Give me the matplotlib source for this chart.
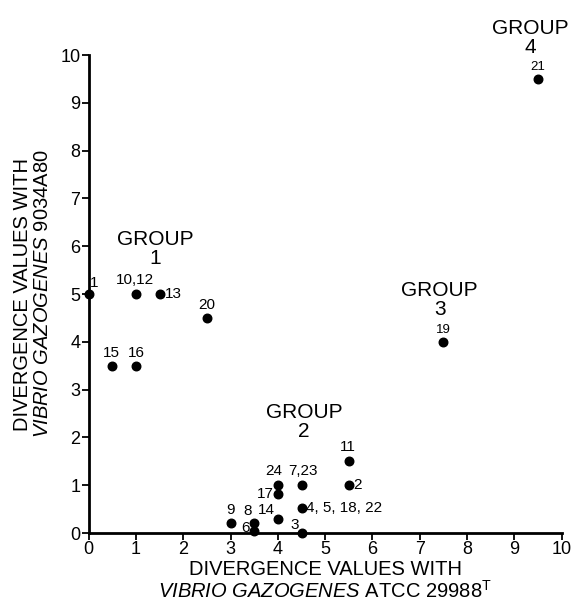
import matplotlib
matplotlib.use("Agg")
import matplotlib.pyplot as plt

plt.rcParams['font.family'] = ['Liberation Sans', 'DejaVu Sans']
plt.rcParams['mathtext.fontset'] = 'custom'
plt.rcParams['mathtext.rm'] = 'Liberation Sans'
plt.rcParams['mathtext.it'] = 'Liberation Sans:italic'

# strain points: divergence vs ATCC 29988T (x) and vs 9034A80 (y)
labels = ['1', '10,12', '13', '20', '15', '16', '21', '19', '11', '2',
          '24', '7,23', '17', '4, 5, 18, 22', '14', '9', '8', '6', '3']
x_vals = [0, 1, 1.5, 2.5, 0.5, 1, 9.5, 7.5, 5.5, 5.5,
          4, 4.5, 4, 4.5, 4, 3, 3.5, 3.5, 4.5]
y_vals = [5, 5, 5, 4.5, 3.5, 3.5, 9.5, 4, 1.5, 1,
          1, 1, 0.82, 0.52, 0.3, 0.22, 0.2, 0.05, 0.0]

groups = ['GROUP\n1', 'GROUP\n2', 'GROUP\n3', 'GROUP\n4']
group_x = [1.4, 4.55, 7.42, 9.33]
group_y = [5.95, 2.33, 4.87, 10.35]

ticks = list(range(0, 11))

# label placement (offset in points, alignment)
offsets = {
    '1': (1, 3, 'left', 'bottom'),
    '10,12': (-1, 5, 'center', 'bottom'),
    '13': (4, 0, 'left', 'center'),
    '20': (0, 4, 'center', 'bottom'),
    '15': (-1, 4, 'center', 'bottom'),
    '16': (0, 4, 'center', 'bottom'),
    '21': (0, 4, 'center', 'bottom'),
    '19': (0, 4, 'center', 'bottom'),
    '11': (-1, 5, 'center', 'bottom'),
    '2': (3, 0, 'left', 'center'),
    '24': (-3, 5, 'center', 'bottom'),
    '7,23': (1, 5, 'center', 'bottom'),
    '17': (-3, 0, 'right', 'center'),
    '4, 5, 18, 22': (3, 0, 'left', 'center'),
    '14': (-8, 1, 'center', 'bottom'),
    '9': (0, 4, 'center', 'bottom'),
    '8': (-5, 4, 'center', 'bottom'),
    '6': (-3, 2, 'right', 'center'),
    '3': (-5, 6, 'center', 'center'),
}

fig = plt.figure(figsize=(5.72, 6.12), dpi=100)
ax = fig.add_axes([0.155, 0.129, 0.827, 0.781])

ax.scatter(x_vals, y_vals, s=38, color='black', zorder=3, clip_on=False)

for lab, x, y in zip(labels, x_vals, y_vals):
    dx, dy, ha, va = offsets[lab]
    fs = 9.5 if lab in ('21', '19') else 11
    ax.annotate(lab, (x, y), xytext=(dx, dy), textcoords='offset points',
                ha=ha, va=va, fontsize=fs, annotation_clip=False)

for g, gx, gy in zip(groups, group_x, group_y):
    ax.text(gx, gy, g, ha='center', va='center', fontsize=15,
            linespacing=1.0, clip_on=False)

ax.set_xlim(0, 10)
ax.set_ylim(0, 10)
ax.set_xticks(ticks)
ax.set_yticks(ticks)
ax.tick_params(labelsize=13, length=5, width=1.3, direction='out', pad=1)
for side in ['top', 'right']:
    ax.spines[side].set_visible(False)
for side in ['left', 'bottom']:
    ax.spines[side].set_linewidth(2)

ax.set_xlabel('DIVERGENCE VALUES WITH\n$\\mathit{VIBRIO\\ GAZOGENES}$ ATCC 29988$^{\\mathrm{T}}$',
              fontsize=14.5, labelpad=1, linespacing=1.05)
ax.set_ylabel('DIVERGENCE VALUES WITH\n$\\mathit{VIBRIO\\ GAZOGENES}$ 9034A80',
              fontsize=14.5, labelpad=6, linespacing=1.05)

fig.savefig('out.png', dpi=100)
